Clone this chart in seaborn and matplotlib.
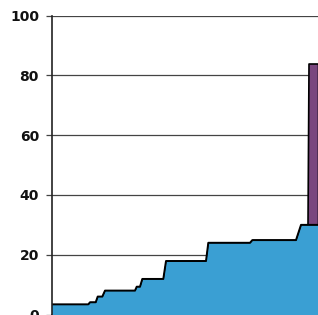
import matplotlib
matplotlib.use('Agg')
import matplotlib.pyplot as plt
import seaborn as sns
import pandas as pd

sns.set_theme(style='white', context='notebook')
plt.rcParams['font.family'] = ['DejaVu Sans']

# ---Data (x in arbitrary time units)---
x_pos = [0, 36.8, 38.5, 44.2, 46.2, 50.8, 53.5, 83.5, 85.2, 88.5, 90.8, 111.8,
         114.5, 154.5, 156.8, 198.5, 200.8, 244.5, 249.5, 256, 257, 266.5]
blue_vals = [3.4, 3.4, 4.1, 4.1, 6, 6, 8, 8, 9.3, 9.3, 11.9, 11.9,
             17.9, 17.9, 24, 24, 24.9, 24.9, 30, 30, 30, 30]
purple_vals = [0, 0, 0, 0, 0, 0, 0, 0, 0, 0, 0, 0,
               0, 0, 0, 0, 0, 0, 0, 0, 54, 54]
y_ticks = [0, 20, 40, 60, 80, 100]

df = pd.DataFrame({'x': x_pos, 'blue': blue_vals, 'purple': purple_vals})
df['top'] = df['blue'] + df['purple']

blue_col = '#3a9fd3'
purple_col = '#7a467e'

fig = plt.figure(figsize=(3.18, 3.15), dpi=100)
ax = fig.add_axes([51.5 / 318, 0.5 / 315, 1 - 51.5 / 318, 298.8 / 315])

# grid behind the areas
for t in y_ticks[1:]:
    ax.axhline(t, color='#444444', lw=0.9, zorder=0)

ax.fill_between(df['x'], df['blue'], df['top'], facecolor=purple_col,
                edgecolor='black', lw=1.2, zorder=2)
ax.fill_between(df['x'], 0, df['blue'], facecolor=blue_col, lw=0, zorder=3)
sns.lineplot(data=df, x='x', y='blue', ax=ax, color='black', lw=1.4,
             sort=False, estimator=None, zorder=4)

ax.set_xlim(0, 266.5)
ax.set_ylim(0, 100)
ax.set_yticks(y_ticks)
ax.set_xticks([])
ax.set_xlabel('')
ax.set_ylabel('')
for lab in ax.get_yticklabels():
    lab.set_fontweight('bold')
ax.tick_params(axis='y', left=True, length=4, width=0.9, color='#444444',
               pad=5, labelsize=10, labelcolor='#111111')
for side in ['top', 'right']:
    ax.spines[side].set_visible(False)
ax.spines['left'].set_color('#222222')
ax.spines['left'].set_linewidth(1.2)
ax.spines['bottom'].set_color('#222222')
ax.spines['bottom'].set_linewidth(1.2)
ax.spines['left'].set_zorder(5)

fig.savefig('out.png', dpi=100)
